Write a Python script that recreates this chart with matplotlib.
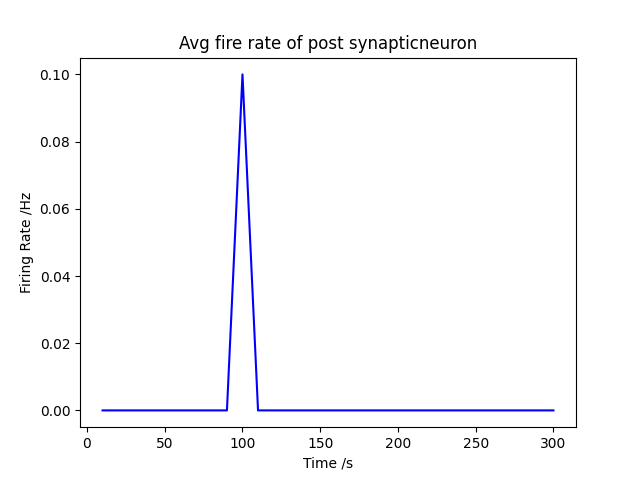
import numpy as np
import matplotlib
matplotlib.use('Agg')
import matplotlib.pyplot as plt

# time points (s) and average firing rate (Hz)
times = [10, 20, 30, 40, 50, 60, 70, 80, 90, 100, 110, 120, 130, 140, 150,
         160, 170, 180, 190, 200, 210, 220, 230, 240, 250, 260, 270, 280, 290, 300]
rates = [0, 0, 0, 0, 0, 0, 0, 0, 0, 0.1, 0, 0, 0, 0, 0,
         0, 0, 0, 0, 0, 0, 0, 0, 0, 0, 0, 0, 0, 0, 0]


def main():
    fig, ax = plt.subplots(figsize=(6.4, 4.8), dpi=100)
    ax.plot(times, rates, color='blue')
    ax.set_title('Avg fire rate of post synapticneuron')
    ax.set_xlabel('Time /s')
    ax.set_ylabel('Firing Rate /Hz')
    fig.savefig('out.png')


if __name__ == "__main__":
    main()
